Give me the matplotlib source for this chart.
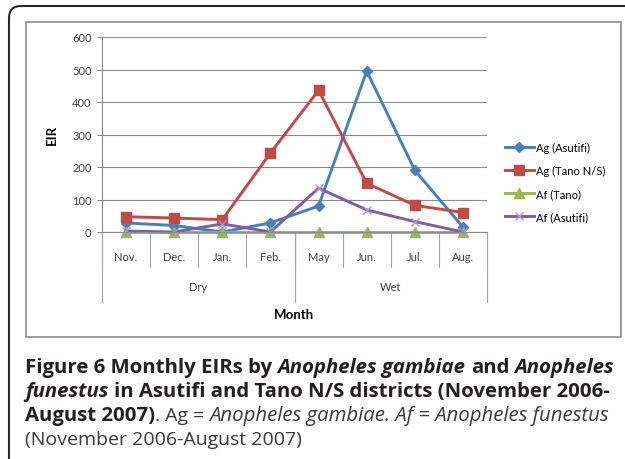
import matplotlib
import numpy as np

matplotlib.use("Agg")
import matplotlib.pyplot as plt
from matplotlib.lines import Line2D
from matplotlib.patches import FancyBboxPatch, Rectangle
from matplotlib.transforms import IdentityTransform

months = ["Nov.", "Dec.", "Jan.", "Feb.", "May", "Jun.", "Jul.", "Aug."]
seasons = ["Dry", "Wet"]
season_spans = [(0, 3), (4, 7)]

ag_asutifi = [28, 20, 0, 28, 80, 495, 190, 15]
ag_tano = [47, 43, 38, 243, 436, 150, 82, 60]
af_tano = [0, 0, 0, 0, 0, 0, 0, 0]
af_asutifi = [3, 0, 25, 0, 135, 68, 32, 0]

W, H = 625, 460
CHART_FONT = "Lato"
CAP_FONT = "Open Sans"


def fx(x):
    return x / W


def fy(y):
    return 1 - y / H


fig = plt.figure(figsize=(W / 100, H / 100), dpi=100)

# outer rounded frame and inner chart box
fig.patches.append(FancyBboxPatch((9, -60), 720, H - 7 + 60, boxstyle="round,pad=0,rounding_size=12",
                                  transform=IdentityTransform(), fill=False, edgecolor="#2a2a2a",
                                  linewidth=1.5, figure=fig))
fig.patches.append(Rectangle((26, H - 338), 595, 315, transform=IdentityTransform(), fill=False,
                             edgecolor="#8c8c8c", linewidth=1.2, figure=fig))

ax = fig.add_axes([fx(102), fy(233), fx(487) - fx(102), fy(38) - fy(233)])
x = np.arange(len(months))

ax.plot(x, ag_asutifi, color="#4a7ebb", lw=2.1, marker="D", ms=5, label="Ag (Asutifi)", clip_on=False)
ax.plot(x, ag_tano, color="#be4b48", lw=2.1, marker="s", ms=6.5, label="Ag (Tano N/S)", clip_on=False)
ax.plot(x, af_tano, color="#98b954", lw=2.1, marker="^", ms=7.5, label="Af (Tano)", clip_on=False)
ax.plot(x, af_asutifi, color="#7d60a0", lw=2.1, marker="x", ms=6, mew=1.0, mec="#a795cc",
        label="Af (Asutifi)", clip_on=False)

ax.set_xlim(-0.5, len(months) - 0.5)
ax.set_ylim(0, 600)
ax.set_yticks(range(0, 601, 100))
ax.grid(axis="y", color="#8c8c8c", linewidth=0.8)
ax.set_axisbelow(True)
for side in ["top", "right"]:
    ax.spines[side].set_visible(False)
ax.spines["left"].set_color("#8c8c8c")
ax.spines["bottom"].set_color("#8c8c8c")
ax.tick_params(axis="y", direction="out", length=3.5, color="#8c8c8c", labelsize=8,
               labelcolor="#404040", pad=4)
ax.set_xticks(x, months)
ax.tick_params(axis="x", length=0, labelsize=8, labelcolor="#404040", pad=14)
for lab in ax.get_xticklabels() + ax.get_yticklabels():
    lab.set_fontfamily(CHART_FONT)

# category separators and season separators
tr = ax.get_xaxis_transform()
for b in np.arange(-0.5, len(months)):
    ax.add_line(Line2D([b, b], [0, -35 / 195], transform=tr, color="#a6a6a6", lw=0.8, clip_on=False))
for (a, b) in season_spans:
    for edge in (a - 0.5, b + 0.5):
        ax.add_line(Line2D([edge, edge], [0, -70 / 195], transform=tr, color="#a6a6a6", lw=0.8,
                           clip_on=False))
for name, (a, b) in zip(seasons, season_spans):
    ax.text((a + b) / 2, -55 / 195, name, transform=tr, ha="center", va="center", fontsize=8,
            color="#404040", family=CHART_FONT)

fig.text(fx(294), fy(315), "Month", ha="center", va="center", fontsize=9.5, fontweight="bold",
         family=CHART_FONT)
fig.text(fx(52), fy(135), "EIR", ha="center", va="center", rotation=90, fontsize=9.5,
         fontweight="bold", family=CHART_FONT)

fig.legend(loc="center left", bbox_to_anchor=(fx(505), fy(183)), frameon=False,
           prop={"family": CHART_FONT, "size": 8}, handlelength=2.6, handletextpad=0.2,
           labelspacing=1.1, borderpad=0, borderaxespad=0)

# caption, built run by run so bold / italic can be mixed
renderer = fig.canvas.get_renderer()
CAP_SIZE = 14.7
REG_SIZE = 14.0


def text_width(s, size, **kw):
    t = fig.text(0, 0, s, fontsize=size, family=CAP_FONT, **kw)
    w = t.get_window_extent(renderer).width
    t.remove()
    return w


def draw_runs(x_px, y_px, runs):
    for s, weight, style, color in runs:
        kw = dict(fontweight=weight, fontstyle=style)
        size = REG_SIZE if (weight == "normal" and style == "normal") else CAP_SIZE
        space_w = text_width("a a", size, **kw) - text_width("aa", size, **kw)
        lead = len(s) - len(s.lstrip(" "))
        trail = len(s) - len(s.rstrip(" "))
        x_px += lead * space_w
        body = s.strip(" ")
        t = fig.text(fx(x_px), fy(y_px), body, fontsize=size, family=CAP_FONT, color=color,
                     va="baseline", ha="left", **kw)
        x_px += t.get_window_extent(renderer).width + trail * space_w


BK = "#231f20"
GR = "#3a3a3a"
draw_runs(25, 373, [("Figure 6 Monthly EIRs by ", "bold", "normal", BK),
                    ("Anopheles gambiae", "bold", "italic", BK),
                    (" and ", "bold", "normal", BK),
                    ("Anopheles", "bold", "italic", BK)])
draw_runs(25, 397, [("funestus", "bold", "italic", BK),
                    (" in Asutifi and Tano N/S districts (November 2006-", "bold", "normal", BK)])
draw_runs(25, 421, [("August 2007)", "bold", "normal", BK),
                    (". Ag = ", "normal", "normal", GR),
                    ("Anopheles gambiae. Af = Anopheles funestus", "normal", "italic", GR)])
draw_runs(25, 445, [("(November 2006-August 2007)", "normal", "normal", GR)])

fig.savefig("out.png", dpi=100)
